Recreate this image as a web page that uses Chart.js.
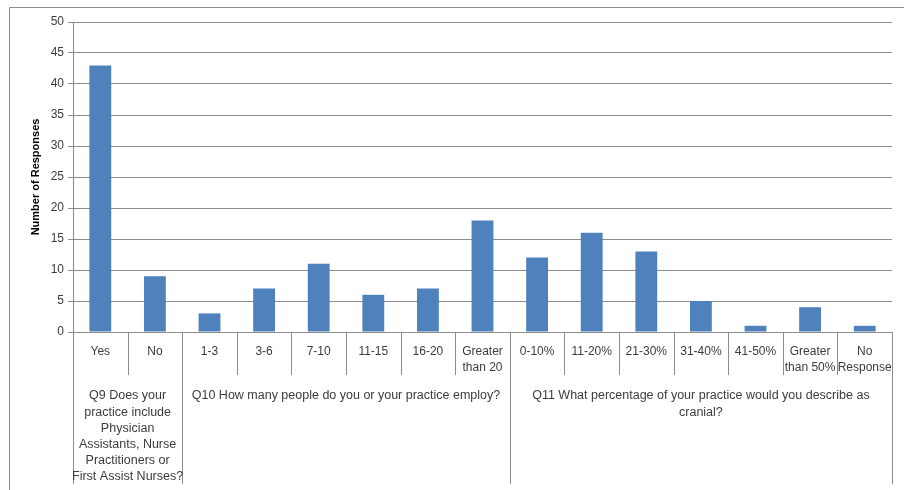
<!DOCTYPE html>
<html>
<head>
<meta charset="utf-8">
<script src="https://cdn.jsdelivr.net/npm/chart.js@4"></script>
<style>
html,body{margin:0;padding:0;background:#fff;}
#wrap{width:904px;height:490px;position:relative;}
</style>
</head>
<body>
<div id="wrap"><canvas id="c" width="904" height="490"></canvas></div>
<script>
// ---- data ----
const categories = [
  ["Yes"], ["No"],
  ["1-3"], ["3-6"], ["7-10"], ["11-15"], ["16-20"], ["Greater", "than 20"],
  ["0-10%"], ["11-20%"], ["21-30%"], ["31-40%"], ["41-50%"], ["Greater", "than 50%"], ["No", "Response"]
];
const responses = [43, 9, 3, 7, 11, 6, 7, 18, 12, 16, 13, 5, 1, 4, 1];
const groupNames = [
  ["Q9 Does your", "practice include", "Physician", "Assistants, Nurse", "Practitioners or", "First Assist Nurses?"],
  ["Q10 How many people do you or your practice employ?"],
  ["Q11 What percentage of your practice would you describe as", "cranial?"]
];
const groupSizes = [2, 6, 7];
const yMin = 0, yMax = 50, yStep = 5;
const yTitle = "Number of Responses";

// ---- styling ----
const FONT = "'Liberation Sans', Arial, sans-serif";
const GRID = "#8c8c8c";
const TEXT = "#3c3c3c";

const multiLevel = {
  id: 'multiLevel',
  beforeDraw(chart) {
    const ctx = chart.ctx;
    ctx.save();
    ctx.strokeStyle = GRID;
    ctx.lineWidth = 1;
    ctx.beginPath();
    ctx.moveTo(9.5, 490);
    ctx.lineTo(9.5, 7.5);
    ctx.lineTo(904, 7.5);
    ctx.stroke();
    ctx.restore();
  },
  afterDraw(chart) {
    const ctx = chart.ctx;
    const xs = chart.scales.x;
    const area = chart.chartArea;
    const n = categories.length;
    const w = (xs.getPixelForValue(1) - xs.getPixelForValue(0));
    const bottom = area.bottom;
    const groupBounds = [0];
    let acc = 0;
    groupSizes.forEach(s => { acc += s; groupBounds.push(acc); });
    ctx.save();
    ctx.strokeStyle = GRID;
    ctx.lineWidth = 1;
    for (let i = 0; i <= n; i++) {
      const x = Math.round(xs.getPixelForValue(0) - w / 2 + i * w) + 0.5;
      const isGroup = groupBounds.includes(i);
      ctx.beginPath();
      ctx.moveTo(x, bottom);
      ctx.lineTo(x, isGroup ? 484 : 375);
      ctx.stroke();
    }
    ctx.fillStyle = TEXT;
    ctx.font = "12px " + FONT;
    ctx.textAlign = "center";
    ctx.textBaseline = "middle";
    categories.forEach((lines, i) => {
      const cx = xs.getPixelForValue(i);
      lines.forEach((t, k) => ctx.fillText(t, cx, bottom + 20 + k * 16));
    });
    ctx.font = "12.5px " + FONT;
    groupNames.forEach((lines, g) => {
      const x0 = xs.getPixelForValue(0) - w / 2 + groupBounds[g] * w;
      const x1 = xs.getPixelForValue(0) - w / 2 + groupBounds[g + 1] * w;
      const cx = (x0 + x1) / 2;
      lines.forEach((t, k) => ctx.fillText(t, cx, bottom + 64 + k * 16.2));
    });
    // y axis title
    ctx.save();
    ctx.translate(36, (area.top + area.bottom) / 2);
    ctx.rotate(-Math.PI / 2);
    ctx.font = "bold 11px " + FONT;
    ctx.fillStyle = "#000";
    ctx.fillText(yTitle, 0, 0);
    ctx.restore();
    ctx.restore();
  }
};

new Chart(document.getElementById('c'), {
  type: 'bar',
  data: {
    labels: categories,
    datasets: [{
      data: responses,
      backgroundColor: '#4F81BD',
      borderWidth: 0,
      categoryPercentage: 1,
      barPercentage: 0.4
    }]
  },
  options: {
    responsive: false,
    animation: false,
    events: [],
    layout: { padding: { left: 0, right: 12, top: 22, bottom: 158 } },
    plugins: { legend: { display: false }, tooltip: { enabled: false } },
    scales: {
      x: { display: false },
      y: {
        min: yMin, max: yMax,
        ticks: { stepSize: yStep, color: TEXT, font: { family: FONT, size: 12 }, padding: 4 },
        grid: { color: GRID, tickLength: 5, drawTicks: true },
        border: { color: GRID },
        afterFit(scale) { scale.width = 73; }
      }
    }
  },
  plugins: [multiLevel]
});
</script>
</body>
</html>
